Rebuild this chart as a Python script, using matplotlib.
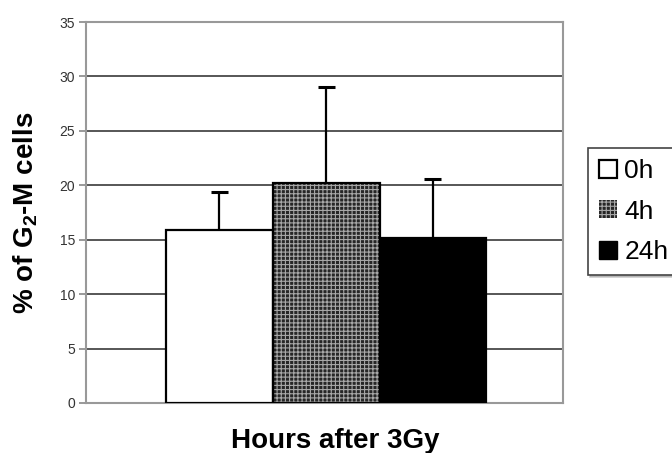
import numpy as np
from matplotlib import pyplot as plt
from matplotlib.patches import Patch

groups = ['0h', '4h', '24h']
values = [15.9, 20.2, 15.2]
errors = [3.5, 8.8, 5.4]
yticks = [0, 5, 10, 15, 20, 25, 30, 35]

plt.rcParams['font.family'] = ['Liberation Sans', 'DejaVu Sans']
plt.rcParams['mathtext.fontset'] = 'custom'
plt.rcParams['mathtext.rm'] = 'Liberation Sans'
plt.rcParams['mathtext.bf'] = 'Liberation Sans:bold'
plt.rcParams['hatch.linewidth'] = 0.8

fig = plt.figure(figsize=(6.72, 4.53), dpi=100)
ax = fig.add_axes([0.128, 0.1104, 0.710, 0.841])

x = np.arange(len(groups))

# grid lines behind the bars
for t in yticks[1:-1]:
    ax.axhline(t, color='#3a3a3a', linewidth=1.2, zorder=0)

# crosshatched fill for the 4h bar
ax.bar(x[1], values[1], width=1.0, color='#262626', edgecolor='#a8a8a8',
       hatch='++++', linewidth=0, zorder=2)
ax.bar(x, values, width=1.0, color=['white', 'none', 'black'],
       edgecolor='black', linewidth=1.6, zorder=3)

# upper error bars only
tops = np.array(values) + np.array(errors)
ax.vlines(x, values, tops, color='black', linewidth=1.6, zorder=4)
ax.hlines(tops, x - 0.08, x + 0.08, color='black', linewidth=2.2, zorder=4)

ax.set_xlim(-1.25, 3.22)
ax.set_ylim(0, 35)
ax.set_yticks(yticks)
ax.set_xticks([])
ax.tick_params(axis='y', labelsize=10, labelcolor='#333333', length=5,
               color='#888888', width=1.2, pad=3)
for s in ax.spines.values():
    s.set_color('#999999')
    s.set_linewidth(1.5)

ax.set_ylabel('% of G$_\\mathbf{2}$-M cells', fontsize=20, fontweight='bold')
ax.yaxis.label.set_va('center')
ax.yaxis.set_label_coords(-0.126, 0.5)
ax.set_xlabel('Hours after 3Gy', fontsize=20, fontweight='bold')
ax.xaxis.label.set_va('center')
ax.xaxis.set_label_coords(0.522, -0.10)

handles = [Patch(facecolor='white', edgecolor='black', linewidth=1.6),
           Patch(facecolor='#262626', edgecolor='#a8a8a8', hatch='++++', linewidth=0),
           Patch(facecolor='black', edgecolor='black')]
leg = fig.legend(handles, groups, loc='upper left', bbox_to_anchor=(0.875, 0.673),
                 fontsize=19, frameon=True, fancybox=False,
                 shadow={'ox': 1.5, 'oy': -1.5, 'color': '#999999'},
                 handlelength=0.68, handleheight=0.68, handletextpad=0.27,
                 borderpad=0.42, labelspacing=0.62, borderaxespad=0)
leg.get_frame().set_edgecolor('#444444')
leg.get_frame().set_linewidth(1.2)

fig.savefig('out.png', dpi=100)
